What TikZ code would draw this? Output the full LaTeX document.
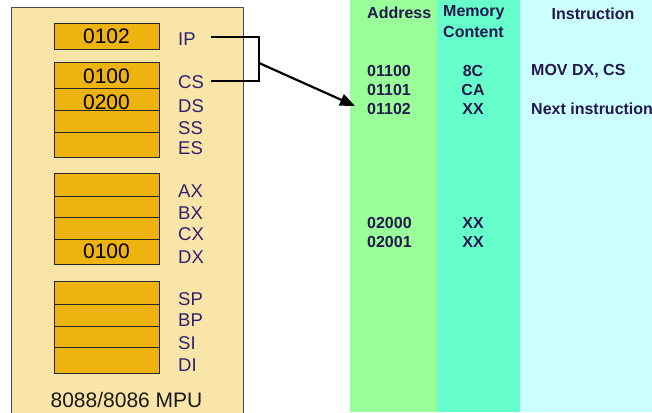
\documentclass[tikz,border=0pt]{standalone}
\usepackage{fontspec}
\setmainfont{Liberation Sans}
\usetikzlibrary{arrows.meta}
\definecolor{mpubg}{HTML}{FAE5A8}
\definecolor{regfill}{HTML}{EFB310}
\definecolor{lbl}{HTML}{2E2270}
\definecolor{colA}{HTML}{99FF99}
\definecolor{colB}{HTML}{66FFCC}
\definecolor{colC}{HTML}{CCFFFF}
\definecolor{rtext}{HTML}{24184F}
\newcommand{\lowered}[2]{\vphantom{0}\smash{\raisebox{-#1}{#2}}}
\tikzset{
  reg/.style={draw=black!85, line width=0.9pt, fill=regfill, minimum width=105pt, inner sep=0pt, font=\fontsize{21}{22}\selectfont},
  rlabel/.style={anchor=west, inner sep=0pt, text=lbl, font=\fontsize{18.5}{20}\selectfont},
  hdr/.style={inner sep=0pt, text=rtext, font=\fontsize{16}{17}\selectfont\bfseries},
  cell/.style={hdr, anchor=west},
  conn/.style={line width=2.2pt, black}
}
\begin{document}
\begin{tikzpicture}[x=1pt,y=-1pt]
\useasboundingbox (0,0) rectangle (652,412);
\clip (0,0) rectangle (652,412);
% memory columns
\fill[colA] (350,0) rectangle (437,412);
\fill[colB] (437,0) rectangle (520,412);
\fill[colC] (520,0) rectangle (652,412);
% MPU box
\draw[fill=mpubg, draw=black!70, line width=1pt] (11,420) -- (11,8) -- (243,8) -- (243,420);
% registers: segment
\node[reg, minimum height=26pt] (rip) at (106.5,36) {0102};
\node[reg, minimum height=26pt] (rcs) at (106.5,75) {\lowered{1pt}{0100}};
\node[reg, minimum height=22pt] (rds) at (106.5,99) {\lowered{3pt}{0200}};
\node[reg, minimum height=22pt] (rss) at (106.5,121) {};
\node[reg, minimum height=25pt] (res) at (106.5,144.5) {};
% general
\node[reg, minimum height=23pt] (rax) at (106.5,184.5) {};
\node[reg, minimum height=21pt] (rbx) at (106.5,206.5) {};
\node[reg, minimum height=22pt] (rcx) at (106.5,228) {};
\node[reg, minimum height=25pt] (rdx) at (106.5,251.5) {0100};
% pointer/index
\node[reg, minimum height=23pt] (rsp) at (106.5,292.5) {};
\node[reg, minimum height=22pt] (rbp) at (106.5,315) {};
\node[reg, minimum height=21pt] (rsi) at (106.5,336.5) {};
\node[reg, minimum height=26pt] (rdi) at (106.5,360) {};
% labels
\node[rlabel] (lip) at (178,39) {IP};
\node[rlabel] (lcs) at (178,82) {CS};
\node[rlabel] (lds) at (178,106) {DS};
\node[rlabel] (lss) at (178,128) {SS};
\node[rlabel] (les) at (178,148) {ES};
\node[rlabel] (lax) at (178,191) {AX};
\node[rlabel] (lbx) at (178,213) {BX};
\node[rlabel] (lcx) at (178,234) {CX};
\node[rlabel] (ldx) at (178,257) {DX};
\node[rlabel] (lsp) at (178,299) {SP};
\node[rlabel] (lbp) at (178,320) {BP};
\node[rlabel] (lsi) at (178,343) {SI};
\node[rlabel] (ldi) at (178,365) {DI};
\node[inner sep=0pt, font=\fontsize{21}{22}\selectfont, text=black!90] (mpu) at (126.5,399.5) {8088/8086 MPU};
% memory table
\node[cell] (hA) at (367,12.5) {Address};
\node[cell] (hM1) at (443,13) {Memory};
\node[cell] (hM2) at (443,32) {Content};
\node[hdr] (hI) at (593,14) {Instruction};
\node[cell] (a1) at (367,70.5) {01100};
\node[cell] (a2) at (367,90) {01101};
\node[cell] (a3) at (367,109) {01102};
\node[cell] (a4) at (367,223) {02000};
\node[cell] (a5) at (367,242) {02001};
\node[hdr] (m1) at (473,70.5) {8C};
\node[hdr] (m2) at (473,90) {CA};
\node[hdr] (m3) at (473,109) {XX};
\node[hdr] (m4) at (473,223) {XX};
\node[hdr] (m5) at (473,242) {XX};
\node[cell] (i1) at (531,71) {MOV DX, CS};
\node[cell] (i2) at (531,109) {Next instruction};
% connector
\coordinate (ipend) at (211,37);
\coordinate (csend) at (211,81);
\coordinate (jt) at (259,37);
\coordinate (jb) at (259,81);
\coordinate (junc) at (259,63);
\coordinate (tip) at (355,106);
\draw[conn, line join=miter] (ipend) -- (jt) -- (jb) -- (csend);
\draw[conn, -{Triangle[length=15pt,width=12pt]}] (junc) -- (tip);
\end{tikzpicture}
\end{document}
